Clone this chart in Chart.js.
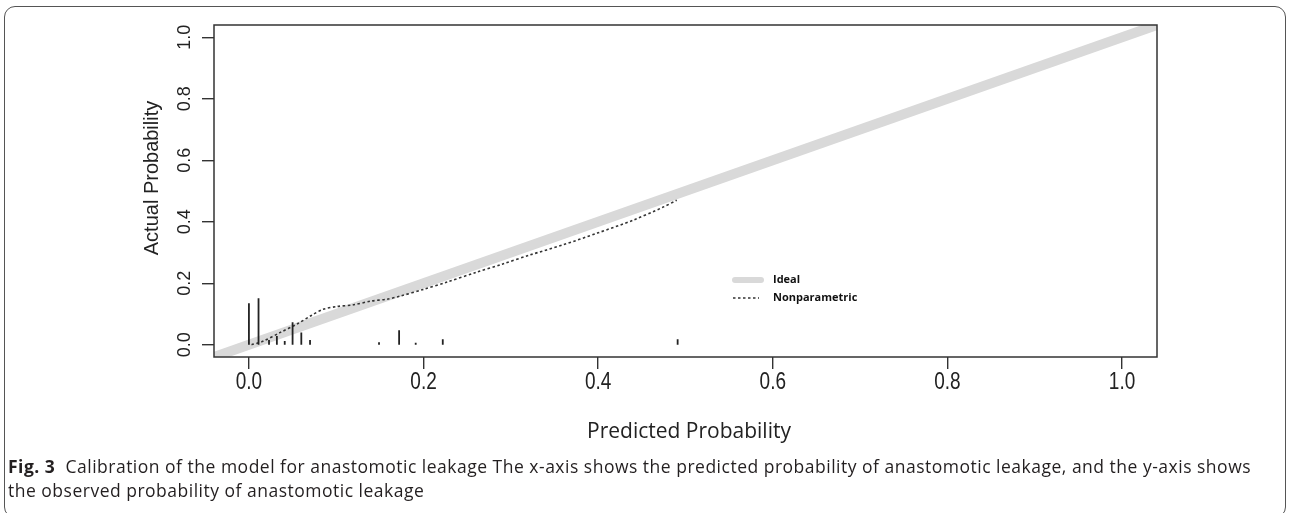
<!DOCTYPE html>
<html>
<head>
<meta charset="utf-8">
<script src="https://cdn.jsdelivr.net/npm/chart.js@4.4.1/dist/chart.umd.min.js"></script>
<style>
    body { margin: 0; background: #fff; }
    #wrap { position: relative; width: 1290px; height: 513px; overflow: hidden; }
    #frame {
        position: absolute; left: 4px; top: 6px; width: 1282px; height: 512px;
        border: 1.5px solid #555; border-radius: 11px; box-sizing: border-box;
    }
    canvas { position: absolute; left: 0; top: 0; }
    #caption {
        position: absolute; left: 8px; top: 454px;
        font: 17.5px "Open Sans", sans-serif; letter-spacing: 0.5px;
        line-height: 24px; color: #231f20; white-space: nowrap;
    }
</style>
</head>
<body>
<div id="wrap">
    <div id="frame"></div>
    <canvas id="calib" width="1290" height="513"></canvas>
    <div id="caption"><b>Fig. 3</b>&nbsp; Calibration of the model for anastomotic leakage The x-axis shows the predicted probability of anastomotic leakage, and the y-axis shows<br>the observed probability of anastomotic leakage</div>
</div>
<script>
// Eksen ayarları
const axisRange = [-0.04, 1.04];
const xTicks = [0, 0.2, 0.4, 0.6, 0.8, 1.0];
const yTicks = [0, 0.2, 0.4, 0.6, 0.8, 1.0];
const tickLabels = ['0.0', '0.2', '0.4', '0.6', '0.8', '1.0'];

// İdeal çizgi (y = x)
const idealX = [-0.04, 1.04];
const idealY = [-0.04, 1.04];

// Nonparametrik kalibrasyon eğrisi
const curveX = [0.003, 0.016, 0.036, 0.055, 0.072, 0.085, 0.10, 0.12, 0.14, 0.158, 0.173, 0.20, 0.227, 0.26, 0.29, 0.322, 0.36, 0.399, 0.44, 0.474, 0.49];
const curveY = [0.0, 0.011, 0.04, 0.067, 0.096, 0.115, 0.124, 0.13, 0.142, 0.148, 0.158, 0.18, 0.204, 0.235, 0.262, 0.292, 0.325, 0.363, 0.405, 0.447, 0.47];

// Tahmin dağılımı (alttaki çubuklar)
const spikeX = [0.0, 0.011, 0.023, 0.032, 0.041, 0.05, 0.06, 0.07, 0.149, 0.172, 0.191, 0.222, 0.491];
const spikeH = [0.135, 0.151, 0.015, 0.028, 0.012, 0.073, 0.04, 0.015, 0.008, 0.047, 0.006, 0.018, 0.018];

const legendLabels = ['Ideal', 'Nonparametric'];
const xTitle = 'Predicted Probability';
const yTitle = 'Actual Probability';

function toPoints(xs, ys) {
    return xs.map((x, i) => ({ x: x, y: ys[i] }));
}

// Her çubuk için iki nokta + boşluk
function spikePoints() {
    const pts = [];
    spikeX.forEach((x, i) => {
        pts.push({ x: x, y: 0 });
        pts.push({ x: x, y: spikeH[i] });
        pts.push({ x: x, y: null });
    });
    return pts;
}

// Kutu, eksen yazıları ve lejand
const decorPlugin = {
    id: 'decor',
    afterDraw(chart) {
        const ctx = chart.ctx;
        const area = chart.chartArea;
        const xs = chart.scales.x;
        const ys = chart.scales.y;
        ctx.save();

        // R tarzı kutu
        ctx.strokeStyle = '#333';
        ctx.lineWidth = 1.5;
        ctx.strokeRect(area.left, area.top, area.right - area.left, area.bottom - area.top);

        ctx.fillStyle = '#222';
        // x etiketleri (dikey uzatılmış)
        ctx.font = '19px "Liberation Sans", Arial, sans-serif';
        ctx.textAlign = 'center';
        ctx.textBaseline = 'middle';
        xTicks.forEach((v, i) => {
            ctx.save();
            ctx.translate(xs.getPixelForValue(v), 382);
            ctx.scale(1, 1.25);
            ctx.fillText(tickLabels[i], 0, 0);
            ctx.restore();
        });

        // y etiketleri (döndürülmüş)
        ctx.font = '18px "Liberation Sans", Arial, sans-serif';
        yTicks.forEach((v, i) => {
            ctx.save();
            ctx.translate(185, ys.getPixelForValue(v));
            ctx.rotate(-Math.PI / 2);
            ctx.fillText(tickLabels[i], 0, 0);
            ctx.restore();
        });

        // Eksen başlıkları
        ctx.font = '20px "Liberation Sans", Arial, sans-serif';
        ctx.save();
        ctx.translate(152, 178);
        ctx.rotate(-Math.PI / 2);
        ctx.fillText(yTitle, 0, 0);
        ctx.restore();

        ctx.font = '21px "Open Sans", sans-serif';
        ctx.fillText(xTitle, 689, 432);

        // Lejand
        ctx.lineCap = 'round';
        ctx.strokeStyle = '#d9d9d9';
        ctx.lineWidth = 6;
        ctx.beginPath();
        ctx.moveTo(735, 280);
        ctx.lineTo(761, 280);
        ctx.stroke();

        ctx.lineCap = 'butt';
        ctx.strokeStyle = '#333';
        ctx.lineWidth = 1.5;
        ctx.setLineDash([2.5, 2.5]);
        ctx.beginPath();
        ctx.moveTo(733, 298);
        ctx.lineTo(759, 298);
        ctx.stroke();
        ctx.setLineDash([]);

        ctx.fillStyle = '#111';
        ctx.font = 'bold 11px "Open Sans", sans-serif';
        ctx.textAlign = 'left';
        ctx.fillText(legendLabels[0], 773, 280);
        ctx.fillText(legendLabels[1], 773, 298);

        ctx.restore();
    }
};

function fixTicks(values) {
    return function (scale) {
        scale.ticks = values.map(v => ({ value: v }));
    };
}

const calibChart = new Chart(document.getElementById('calib'), {
    type: 'scatter',
    data: {
        datasets: [
            {
                label: 'spikes',
                data: spikePoints(),
                showLine: true,
                spanGaps: false,
                borderColor: '#222',
                borderWidth: 1.8,
                pointRadius: 0,
                order: 1
            },
            {
                label: legendLabels[1],
                data: toPoints(curveX, curveY),
                showLine: true,
                borderColor: '#333',
                borderWidth: 1.6,
                borderDash: [2.5, 2.5],
                pointRadius: 0,
                tension: 0.3,
                order: 2
            },
            {
                label: legendLabels[0],
                data: toPoints(idealX, idealY),
                showLine: true,
                borderColor: '#d9d9d9',
                borderWidth: 10,
                pointRadius: 0,
                order: 3
            }
        ]
    },
    options: {
        responsive: false,
        animation: false,
        devicePixelRatio: 1,
        layout: { padding: { left: 0, top: 25, right: 133, bottom: 0 } },
        plugins: {
            legend: { display: false },
            tooltip: { enabled: false }
        },
        scales: {
            x: {
                type: 'linear',
                min: axisRange[0],
                max: axisRange[1],
                afterBuildTicks: fixTicks(xTicks),
                afterFit(scale) { scale.height = 156; },
                border: { display: false },
                grid: {
                    drawOnChartArea: false,
                    drawTicks: true,
                    tickLength: 12,
                    tickColor: '#333',
                    lineWidth: 1.4
                },
                ticks: { display: false }
            },
            y: {
                type: 'linear',
                min: axisRange[0],
                max: axisRange[1],
                afterBuildTicks: fixTicks(yTicks),
                afterFit(scale) { scale.width = 214; },
                border: { display: false },
                grid: {
                    drawOnChartArea: false,
                    drawTicks: true,
                    tickLength: 12,
                    tickColor: '#333',
                    lineWidth: 1.4
                },
                ticks: { display: false }
            }
        }
    },
    plugins: [decorPlugin]
});
</script>
</body>
</html>
